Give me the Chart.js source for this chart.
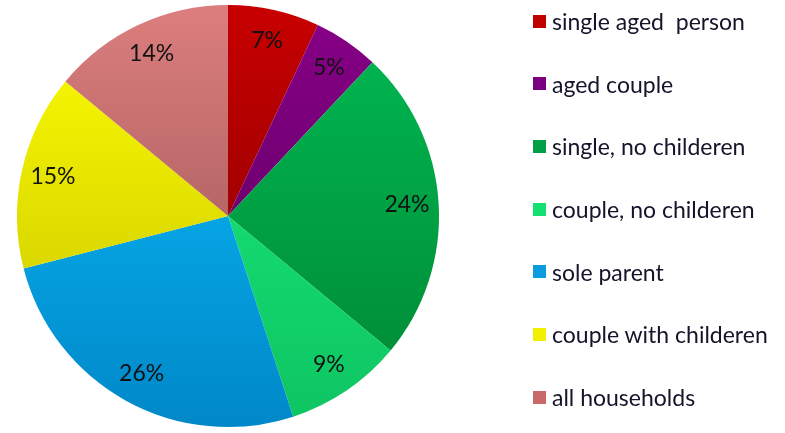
<!DOCTYPE html>
<html>
<head>
<meta charset="utf-8">
<script src="https://cdn.jsdelivr.net/npm/chart.js@4"></script>
<style>
  html, body { margin:0; padding:0; background:#fff; }
  #wrap { position:relative; width:785px; height:433px; }
  #chart { position:absolute; left:0; top:0; }
  .lg { position:absolute; left:533px; height:26px; display:flex; align-items:center; white-space:pre;
        font-family: Lato, "Open Sans", sans-serif; font-size:23px; color:#14142a; }
  .lg span.box { display:inline-block; width:13px; height:13px; margin-right:6px; }
</style>
</head>
<body>
<div id="wrap">
  <canvas id="chart" width="785" height="433"></canvas>
  <div id="legend"></div>
</div>
<script>
const categories = ["single aged  person", "aged couple", "single, no childeren", "couple, no childeren", "sole parent", "couple with childeren", "all households"];
const values = [7, 5, 24, 9, 26, 15, 14];
const topColors = ["#C80000", "#880088", "#00BA54", "#18F07E", "#0CC0FF", "#FFFF00", "#DC7E7E"];
const bottomColors = ["#7C0000", "#540056", "#008632", "#0EC462", "#0088C8", "#C4C000", "#904E4E"];
const legendColors = ["#C00000", "#7A0080", "#00A046", "#14E070", "#0A9CDC", "#F0F000", "#C86A6A"];

// HTML legend
const legendEl = document.getElementById('legend');
categories.forEach((c, i) => {
  const d = document.createElement('div');
  d.className = 'lg';
  d.style.top = (21 + i * 62.67 - 13) + 'px';
  const b = document.createElement('span');
  b.className = 'box';
  b.style.background = legendColors[i];
  d.appendChild(b);
  d.appendChild(document.createTextNode(c));
  legendEl.appendChild(d);
});

const pctLabels = {
  id: 'pctLabels',
  afterDatasetsDraw(chart) {
    const ctx = chart.ctx;
    const meta = chart.getDatasetMeta(0);
    ctx.save();
    ctx.font = '23px Lato, "Open Sans", sans-serif';
    ctx.fillStyle = '#121212';
    ctx.textAlign = 'center';
    ctx.textBaseline = 'middle';
    meta.data.forEach((arc, i) => {
      const p = arc.getProps(['x', 'y', 'startAngle', 'endAngle', 'outerRadius'], true);
      const mid = (p.startAngle + p.endAngle) / 2;
      const r = p.outerRadius * 0.85;
      ctx.fillText(values[i] + '%', p.x + Math.cos(mid) * r, p.y + Math.sin(mid) * r);
    });
    ctx.restore();
  }
};

new Chart(document.getElementById('chart'), {
  type: 'pie',
  data: {
    labels: categories,
    datasets: [{
      data: values,
      borderWidth: 0,
      backgroundColor: (c) => {
        const area = c.chart.chartArea;
        const i = c.dataIndex;
        if (!area) return topColors[i];
        const g = c.chart.ctx.createLinearGradient(0, area.top, 0, area.bottom);
        g.addColorStop(0, topColors[i]);
        g.addColorStop(1, bottomColors[i]);
        return g;
      }
    }]
  },
  options: {
    responsive: false,
    animation: false,
    layout: { padding: { left: 0, right: 329, top: 5, bottom: 6 } },
    plugins: {
      legend: { display: false },
      tooltip: { enabled: false }
    }
  },
  plugins: [pctLabels]
});
</script>
</body>
</html>
